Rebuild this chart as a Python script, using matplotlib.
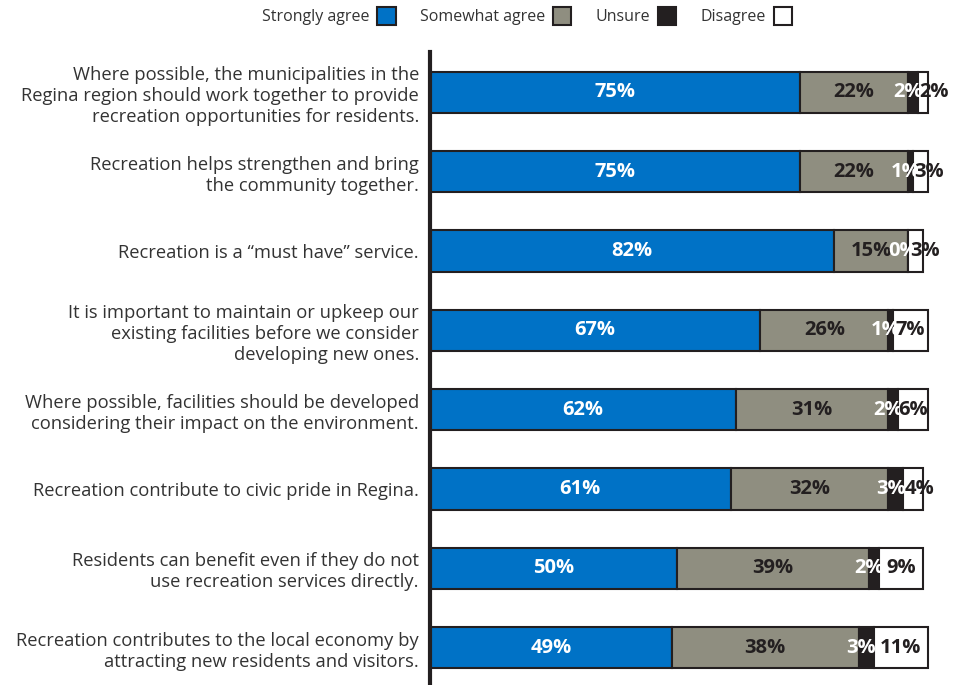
import matplotlib.pyplot as plt
from matplotlib.patches import Patch

statements = [
    "Where possible, the municipalities in the\nRegina region should work together to provide\nrecreation opportunities for residents.",
    "Recreation helps strengthen and bring\nthe community together.",
    "Recreation is a \u201cmust have\u201d service.",
    "It is important to maintain or upkeep our\nexisting facilities before we consider\ndeveloping new ones.",
    "Where possible, facilities should be developed\nconsidering their impact on the environment.",
    "Recreation contribute to civic pride in Regina.",
    "Residents can benefit even if they do not\nuse recreation services directly.",
    "Recreation contributes to the local economy by\nattracting new residents and visitors.",
]
strongly_agree = [75, 75, 82, 67, 62, 61, 50, 49]
somewhat_agree = [22, 22, 15, 26, 31, 32, 39, 38]
unsure = [2, 1, 0, 1, 2, 3, 2, 3]
disagree = [2, 3, 3, 7, 6, 4, 9, 11]

series_names = ["Strongly agree", "Somewhat agree", "Unsure", "Disagree"]
colors = ["#0072C6", "#8F8E80", "#231F20", "#FFFFFF"]
label_colors = ["white", "#231F20", "white", "#231F20"]
edge = "#231F20"

plt.rcParams["font.family"] = ["Open Sans", "DejaVu Sans"]

fig = plt.figure(figsize=(9.66, 6.85), dpi=100)
ax = fig.add_axes([430 / 966, 0, 536 / 966, 633 / 685])

rows = list(range(len(statements)))
left = [0] * len(rows)
series = [strongly_agree, somewhat_agree, unsure, disagree]
for k, vals in enumerate(series):
    ax.barh(rows, vals, left=left, height=0.52, color=colors[k],
            edgecolor=edge, linewidth=1.5, label=series_names[k], zorder=2)
    for i, v in enumerate(vals):
        start = left[i]
        if k == 2:
            x, ha = start + v / 2 - 1, "center"
        elif k == 3 and v < 6:
            x, ha = start + 0.3, "left"
        else:
            x, ha = start + v / 2, "center"
        ax.text(x, i, f"{v}%", ha=ha, va="center", color=label_colors[k],
                fontsize=14.5, fontweight="bold", zorder=3)
    left = [a + b for a, b in zip(left, vals)]

ax.set_xlim(0, 536 / 4.93)
ax.set_ylim(7.47, -0.51)
ax.set_xticks([])
ax.set_yticks(rows)
ax.set_yticklabels(statements, fontsize=13.2, color="#333333")
ax.tick_params(axis="y", length=0, pad=8)
for side in ["top", "right", "bottom"]:
    ax.spines[side].set_visible(False)
ax.spines["left"].set_linewidth(3)
ax.spines["left"].set_color("#231F20")

handles = [Patch(facecolor=c, edgecolor=edge, linewidth=1.5) for c in colors]
fig.legend(handles, series_names, loc="center", bbox_to_anchor=(527 / 966, 1 - 16 / 685),
           ncol=4, frameon=False, markerfirst=False, fontsize=11.5,
           handlelength=1.15, handleheight=1.45, columnspacing=1.5, handletextpad=0.5,
           labelcolor="#333333")

fig.savefig("out.png", dpi=100)
